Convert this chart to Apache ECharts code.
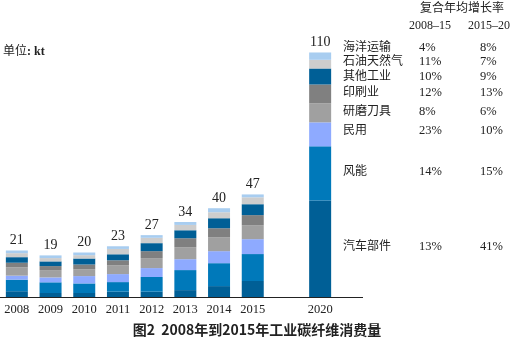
<!DOCTYPE html>
<html><head><meta charset="utf-8">
<script src="https://cdn.jsdelivr.net/npm/echarts@6/dist/echarts.min.js"></script>
<style>html,body{margin:0;padding:0;background:#fff}#c{width:514px;height:338px}</style>
</head><body><div id="c"></div>
<script>
const categories = ['2008','2009','2010','2011','2012','2013','2014','2015','','2020'];
const totals = [21,19,20,23,27,34,40,47,'',110];
// bottom to top
const auto   = [2.6,1.8,1.8,2.4,2.4,3.1,4.9,7.2,'-',43.4];
const wind   = [5.2,4.8,4.3,4.3,6.6,9.0,10.3,12.1,'-',24.3];
const civil  = [1.8,2.2,3.3,3.6,4.0,4.9,5.4,6.7,'-',10.8];
const grind  = [3.7,3.3,3.1,4.0,4.5,5.4,6.3,6.3,'-',8.5];
const print  = [2.1,1.8,2.1,2.2,3.1,4.0,4.0,4.5,'-',8.5];
const other  = [2.5,2.1,2.7,2.7,3.6,3.6,4.5,4.9,'-',7.2];
const petro  = [1.8,1.5,1.5,2.4,2.4,2.4,2.7,3.1,'-',3.9];
const marine = [1.2,1.2,1.2,1.2,1.2,1.3,1.8,1.3,'-',3.3];
const seriesNames = ['汽车部件','风能','民用','研磨刀具','印刷业','其他工业','石油天然气','海洋运输'];
const cagr0815 = ['13%','14%','23%','8%','12%','10%','11%','4%'];
const cagr1520 = ['41%','15%','10%','6%','13%','9%','7%','8%'];
const headerTitle = '复合年均增长率';
const headerCols = ['2008–15','2015–20'];
const unitLabel = '单位';
const unitValue = ': kt';
const chartTitle = '图2  2008年到2015年工业碳纤维消费量';

const seriesData = [auto,wind,civil,grind,print,other,petro,marine];
const colors = ['#005f96','#0079ba','#8eaaff','#a0a0a0','#808080','#005f96','#cdcdcd','#a8cdf0'];
const labelY = [247,172,131,112,93,77,62,48];

const serif = '"Liberation Serif","Noto Sans CJK SC",serif';
const cjk = '"Liberation Serif","Noto Sans CJK SC",sans-serif';

const chart = echarts.init(document.getElementById('c'),null,{renderer:'canvas'});
const series = seriesData.map((d,i)=>({
  name: seriesNames[i], type:'bar', stack:'s', data:d, barWidth:22,
  itemStyle:{color:colors[i]}, animation:false,
  label: i===seriesData.length-1 ? {show:true,position:'top',distance:3,
    formatter:p=>String(totals[p.dataIndex]),fontFamily:serif,fontSize:14,color:'#222'} : {show:false}
}));

const graphic = [];
graphic.push({type:'line',shape:{x1:336,y1:297.5,x2:363,y2:297.5},style:{stroke:'#222',lineWidth:1}});
graphic.push({type:'text',style:{x:3,y:52,text:'{a|'+unitLabel+'}{b|'+unitValue+'}',
  rich:{a:{font:'12px '+cjk,fill:'#222'},b:{font:'bold 12px '+serif,fill:'#222'}},textVerticalAlign:'middle'}});
graphic.push({type:'text',style:{x:462,y:9,text:headerTitle,font:'12px '+cjk,fill:'#222',textAlign:'center',textVerticalAlign:'middle'}});
graphic.push({type:'text',style:{x:430,y:26,text:headerCols[0],font:'12px '+serif,fill:'#222',textAlign:'center',textVerticalAlign:'middle'}});
graphic.push({type:'text',style:{x:489,y:26,text:headerCols[1],font:'12px '+serif,fill:'#222',textAlign:'center',textVerticalAlign:'middle'}});
seriesNames.forEach((n,i)=>{
  graphic.push({type:'text',style:{x:343,y:labelY[i],text:n,font:'12px '+cjk,fill:'#222',textVerticalAlign:'middle'}});
  graphic.push({type:'text',style:{x:419,y:labelY[i],text:cagr0815[i],font:'12.5px '+serif,fill:'#222',textVerticalAlign:'middle'}});
  graphic.push({type:'text',style:{x:480,y:labelY[i],text:cagr1520[i],font:'12.5px '+serif,fill:'#222',textVerticalAlign:'middle'}});
});
graphic.push({type:'text',style:{x:257,y:330,text:chartTitle,font:'bold 14px "Noto Sans CJK SC",sans-serif',fill:'#222',textAlign:'center',textVerticalAlign:'middle'}});

chart.setOption({
  animation:false,
  grid:{left:0,top:30,width:337,bottom:41,containLabel:false},
  xAxis:{type:'category',data:categories,boundaryGap:true,
    axisLine:{lineStyle:{color:'#222',width:1}},axisTick:{show:false},
    axisLabel:{fontFamily:serif,fontSize:12.5,color:'#222',margin:6,interval:0}},
  yAxis:{type:'value',min:0,max:120,show:false,splitLine:{show:false}},
  series:series,
  graphic:graphic
});
</script></body></html>
